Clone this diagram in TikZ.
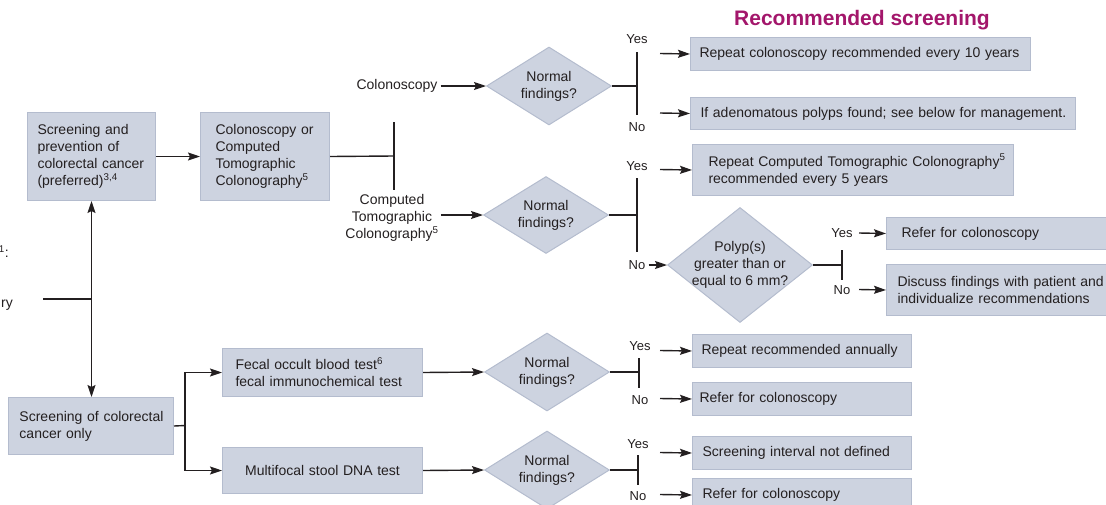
\documentclass[tikz,border=0pt]{standalone}
\usepackage{fontspec}
\setmainfont{Liberation Sans}
\usetikzlibrary{shapes.geometric,arrows.meta}
\definecolor{boxfill}{RGB}{205,211,224}
\definecolor{boxline}{RGB}{180,188,206}
\definecolor{ink}{RGB}{35,31,32}
\definecolor{titlecol}{RGB}{163,22,107}

\begin{document}
\begin{tikzpicture}[x=1pt,y=-1pt,
  every node/.style={font=\fontsize{14}{17}\selectfont, text=ink},
  box/.style={draw=boxline, fill=boxfill, line width=1pt, inner ysep=0pt, align=left, anchor=north west},
  decision/.style={diamond, draw=boxline, fill=boxfill, line width=1pt, inner sep=0pt},
  qtext/.style={align=center, inner sep=0pt},
  link/.style={draw=ink, line width=1.4pt},
  tip/.style={-{Stealth[length=12pt,width=8pt,inset=2pt]}},
  arr/.style={link, tip},
  tag/.style={inner sep=1pt, font=\fontsize{13}{15}\selectfont}
]
\useasboundingbox (0,0) rectangle (1106,504);
\clip (0,0) rectangle (1106,504);

% heading of the outcome column
\node[font=\fontsize{21}{25}\selectfont\bfseries, text=titlecol] (title) at (862,20) {Recommended screening};

% entry boxes
\node[box, minimum width=128pt, minimum height=88pt, text width=108pt, inner xsep=10pt] (prev) at (27,112)
  {Screening and\\prevention of\\\mbox{colorectal cancer}\\(preferred)\textsuperscript{3,4}};
\node[box, minimum width=129pt, minimum height=88pt, text width=99pt, inner xsep=15pt] (method) at (200,112)
  {\mbox{Colonoscopy or}\\Computed\\Tomographic\\\mbox{Colonography\textsuperscript{5}}};
\node[box, minimum width=165pt, minimum height=57pt, text width=143pt, inner xsep=11pt] (only) at (8,397)
  {\mbox{Screening of colorectal}\\cancer only};
\node[box, minimum width=200pt, minimum height=48pt, text width=174pt, inner xsep=13pt] (fobt) at (222,348)
  {\mbox{Fecal occult blood test\textsuperscript{6}}\\\mbox{fecal immunochemical test}};
\node[box, align=center, minimum width=200pt, minimum height=46pt, text width=180pt, inner xsep=10pt] (dna) at (222,447)
  {Multifocal stool DNA test};

% outcome boxes
\node[box, minimum width=340pt, minimum height=33pt, text width=322pt, inner xsep=9pt] (r1) at (690,37)
  {\mbox{Repeat colonoscopy recommended every 10 years}};
\node[box, minimum width=385pt, minimum height=32pt, text width=365pt, inner xsep=10pt] (r2) at (690,97)
  {\mbox{If adenomatous polyps found; see below for management.}};
\node[box, minimum width=321pt, minimum height=51pt, text width=289pt, inner xsep=16pt] (r3) at (692,144)
  {\mbox{Repeat Computed Tomographic Colonography\textsuperscript{5}}\\recommended every 5 years};
\node[box, minimum width=240pt, minimum height=32pt, text width=210pt, inner xsep=15pt] (r4) at (886,217)
  {Refer for colonoscopy};
\node[box, minimum width=240pt, minimum height=51pt, text width=218pt, inner xsep=11pt] (r5) at (886,264)
  {\mbox{Discuss findings with patient and}\\\mbox{individualize recommendations}};
\node[box, minimum width=219pt, minimum height=33pt, text width=201pt, inner xsep=9pt] (s1) at (692,334)
  {Repeat recommended annually};
\node[box, minimum width=219pt, minimum height=33pt, text width=205pt, inner xsep=7pt] (s2) at (692,382)
  {Refer for colonoscopy};
\node[box, minimum width=219pt, minimum height=33pt, text width=199pt, inner xsep=10pt] (s3) at (692,436)
  {Screening interval not defined};
\node[box, minimum width=219pt, minimum height=33pt, text width=199pt, inner xsep=10pt] (s4) at (692,478)
  {Refer for colonoscopy};

% decisions
\node[decision, minimum width=125pt, minimum height=78pt,
      label={[qtext]center:{Normal\\findings?}}] (q1) at (549,86) {};
\node[decision, minimum width=125pt, minimum height=77pt,
      label={[qtext]center:{Normal\\findings?}}] (q2) at (546,215) {};
\node[decision, minimum width=145pt, minimum height=115pt,
      label={[qtext]center:{Polyp(s)\\greater than or\\equal to 6 mm?}}] (q3) at (740,265) {};
\node[decision, minimum width=125pt, minimum height=78pt,
      label={[qtext]center:{Normal\\findings?}}] (q4) at (547,372) {};
\node[decision, minimum width=125pt, minimum height=78pt,
      label={[qtext]center:{Normal\\findings?}}] (q5) at (547,470) {};

% method labels
\node[inner sep=3pt] (lcol) at (397,86) {Colonoscopy};
\node[align=center, inner sep=2pt] (lct) at (392,218) {Computed\\Tomographic\\Colonography\textsuperscript{5}};

% text continuing from the left margin
\node[anchor=east, inner sep=0pt] (frag1) at (9,252) {\textsuperscript{1}:};
\node[anchor=east, inner sep=0pt] (frag2) at (13,305) {ry};

% left spine
\draw[link, {Stealth[length=12pt,width=8pt,inset=2pt]}-{Stealth[length=12pt,width=8pt,inset=2pt]}]
  (prev.south) -- (prev.south |- only.north);
\coordinate (lin) at (43,299);
\draw[link] (lin) -- (lin -| prev.south);

% preferred path
\draw[arr] (prev.east) -- (method.west);
\coordinate (splitB) at (394,156);
\coordinate (splitBtop) at (394,122);
\coordinate (splitBbot) at (394,190);
\draw[link] (method.east) -- (splitB);
\draw[link] (splitBtop) -- (splitBbot);
\draw[arr] (lcol.east) -- (q1.west);
\draw[arr] (lct.east |- q2.west) -- (q2.west);

% colonoscopy outcome
\coordinate (j1) at (637,86);
\coordinate (j1t) at (637,52);
\coordinate (j1b) at (637,115);
\draw[link] (q1.east) -- (j1);
\draw[link] (j1t) -- (j1b);
\node[tag] (y1) at (637,39) {Yes};
\node[tag] (n1) at (637,127) {No};
\coordinate (a1) at (660,53.5);
\coordinate (a2) at (660,113);
\draw[arr] (a1) -- (r1.west);
\draw[arr] (a2) -- (r2.west);

% CT colonography outcome
\coordinate (j2) at (637,215);
\coordinate (j2t) at (637,178);
\coordinate (j2b) at (637,252);
\draw[link] (q2.east) -- (j2);
\draw[link] (j2t) -- (j2b);
\node[tag] (y2) at (637,166) {Yes};
\node[tag, inner sep=3pt] (n2) at (637,265) {No};
\coordinate (a3) at (660,169.5);
\draw[arr] (a3) -- (r3.west);
\draw[arr] (n2.east) -- (q3.west);

% polyp size outcome
\coordinate (j3) at (842,265);
\coordinate (j3t) at (842,250);
\coordinate (j3b) at (842,280);
\draw[link] (q3.east) -- (j3);
\draw[link] (j3t) -- (j3b);
\node[tag] (y3) at (842,233) {Yes};
\node[tag] (n3) at (842,290) {No};
\coordinate (a4) at (859,233);
\coordinate (a5) at (859,289.5);
\draw[arr] (a4) -- (r4.west);
\draw[arr] (a5) -- (r5.west);

% stool-based tests
\coordinate (splitC) at (185,425.5);
\draw[link] (only.east) -- (splitC);
\draw[arr] (splitC) |- (fobt.west);
\draw[arr] (splitC) |- (dna.west);
\draw[arr] (fobt.east) -- (q4.west);
\draw[arr] (dna.east) -- (q5.west);

\coordinate (j4) at (639,372);
\coordinate (j4t) at (639,358);
\coordinate (j4b) at (639,388);
\draw[link] (q4.east) -- (j4);
\draw[link] (j4t) -- (j4b);
\node[tag] (y4) at (640,346) {Yes};
\node[tag] (n4) at (640,400) {No};
\coordinate (a6) at (660,350.5);
\coordinate (a7) at (660,398.5);
\draw[arr] (a6) -- (s1.west);
\draw[arr] (a7) -- (s2.west);

\coordinate (j5) at (638,470);
\coordinate (j5t) at (638,455);
\coordinate (j5b) at (638,485);
\draw[link] (q5.east) -- (j5);
\draw[link] (j5t) -- (j5b);
\node[tag] (y5) at (638,444) {Yes};
\node[tag] (n5) at (638,496) {No};
\coordinate (a8) at (660,452.5);
\coordinate (a9) at (660,494.5);
\draw[arr] (a8) -- (s3.west);
\draw[arr] (a9) -- (s4.west);
\end{tikzpicture}
\end{document}
